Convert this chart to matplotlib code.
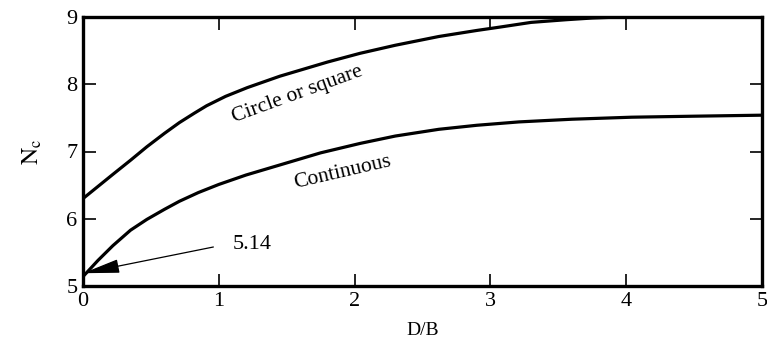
import numpy as np
import matplotlib.pyplot as plt

plt.rcParams['font.family'] = ['Liberation Serif', 'DejaVu Serif']
plt.rcParams['mathtext.fontset'] = 'stix'

# bearing capacity factor N_c versus embedment ratio D/B
db_circle = [0.0, 0.11, 0.22, 0.35, 0.47, 0.6, 0.71, 0.82, 0.91, 1.05,
             1.21, 1.45, 1.6, 1.8, 2.04, 2.3, 2.62, 2.9, 3.07, 3.3, 3.56,
             3.75, 3.95, 4.34]
nc_circle = [6.30, 6.48, 6.66, 6.87, 7.07, 7.27, 7.43, 7.57, 7.68, 7.82,
             7.95, 8.12, 8.21, 8.33, 8.46, 8.58, 8.71, 8.80, 8.85, 8.92, 8.96,
             8.985, 9.0, 9.0]

db_cont = [0.0, 0.11, 0.22, 0.35, 0.47, 0.6, 0.71, 0.85, 1.0, 1.2,
           1.45, 1.75, 2.04, 2.3, 2.62, 2.9, 3.21, 3.6, 4.04, 4.5, 5.0]
nc_cont = [5.14, 5.38, 5.60, 5.83, 5.99, 6.14, 6.26, 6.39, 6.51, 6.65,
           6.80, 6.98, 7.12, 7.23, 7.33, 7.39, 7.44, 7.48, 7.51, 7.525, 7.54]

surface_value = 5.14

xticks = [0, 1, 2, 3, 4, 5]
yticks = [5, 6, 7, 8, 9]

fig = plt.figure(figsize=(7.67, 3.45), dpi=100)
ax = fig.add_axes([83 / 767, 1 - 286 / 345, (762 - 83) / 767, (286 - 17) / 345])

ax.plot(db_circle, nc_circle, color='black', lw=2.3, solid_joinstyle='round')
ax.plot(db_cont, nc_cont, color='black', lw=2.3, solid_joinstyle='round')

ax.text(1.58, 7.85, 'Circle or square', fontsize=15.5, rotation=20,
        ha='center', va='center')
ax.text(1.91, 6.69, 'Continuous', fontsize=15.5, rotation=13,
        ha='center', va='center')

# pointer to the surface value at D/B = 0
ax.annotate('', xy=(0.0, surface_value + 0.05), xytext=(0.96, 5.58),
            arrowprops=dict(arrowstyle='-|>,head_length=2.3,head_width=0.43',
                            mutation_scale=10, color='black', lw=0.9,
                            shrinkA=0, shrinkB=0))
ax.text(1.10, 5.62, '%.2f' % surface_value, fontsize=16, va='center', ha='left')

ax.set_xlim(0, 5)
ax.set_ylim(5, 9)
ax.set_xticks(xticks)
ax.set_yticks(yticks)
ax.tick_params(direction='in', length=9, width=1.2, labelsize=16,
               top=True, right=True, pad=4)
for s in ax.spines.values():
    s.set_linewidth(2.4)

ax.set_xlabel('D/B', fontsize=14, labelpad=8)
ax.set_ylabel('$\\mathrm{N_c}$', fontsize=17, labelpad=16)

fig.savefig('out.png', dpi=100)
